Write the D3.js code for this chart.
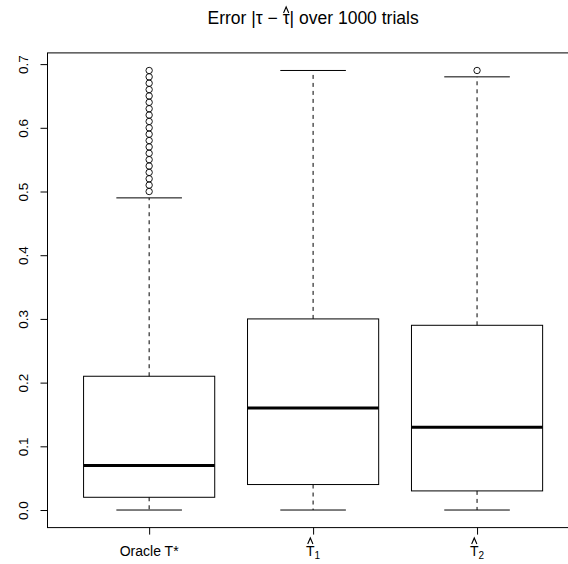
<!DOCTYPE html>
<html><head><meta charset="utf-8">
<script src="https://cdn.jsdelivr.net/npm/d3@7"></script>
<style>body{margin:0;background:#fff}svg{display:block}text{font-family:"Liberation Sans",Arial,sans-serif;fill:#000}</style>
</head><body>
<svg id="c" width="568" height="564"></svg>
<script>
const groups = ["Oracle T*", "T1", "T2"];
const lowerWhisker = [0, 0, 0];
const q1 = [0.02, 0.04, 0.03];
const median = [0.07, 0.16, 0.13];
const q3 = [0.21, 0.30, 0.29];
const upperWhisker = [0.49, 0.69, 0.68];
const outliers = [
  [0.50,0.51,0.52,0.53,0.54,0.55,0.56,0.57,0.58,0.59,0.60,0.61,0.62,0.63,0.64,0.65,0.66,0.67,0.68,0.69],
  [],
  [0.69]
];
const yTicks = [0.0, 0.1, 0.2, 0.3, 0.4, 0.5, 0.6, 0.7];

const svg = d3.select("#c");
const x = d3.scaleLinear().domain([0.38, 3.62]).range([47.5, 578.7]);
const y = d3.scaleLinear().domain([-0.0276, 0.7176]).range([527.6, 52.9]);
const bw = 0.8, sw = 0.4;

function hat(cx, by) {
  svg.append("path").attr("d", `M${cx - 2.6},${by} L${cx},${by - 6} L${cx + 2.6},${by}`)
    .attr("fill", "none").attr("stroke", "#000").attr("stroke-width", 1.1);
}

// frame
svg.append("rect").attr("x", x(0.38)).attr("y", y(0.7176))
  .attr("width", x(3.62) - x(0.38)).attr("height", y(-0.0276) - y(0.7176))
  .attr("fill", "none").attr("stroke", "#000").attr("stroke-width", 1);

// y axis
const ya = svg.append("g").attr("transform", `translate(${x(0.38)},0)`)
  .call(d3.axisLeft(y).tickValues(yTicks).tickSize(7).tickFormat(d3.format(".1f")));
ya.select(".domain").remove();
ya.selectAll("line").attr("stroke", "#000");
ya.selectAll("text").attr("x", null).attr("dy", null).attr("y", 0)
  .attr("text-anchor", "middle").style("font-size", "13.5px")
  .attr("transform", "translate(-20,0) rotate(-90)");
ya.append("line").attr("y1", y(0)).attr("y2", y(0.7)).attr("stroke", "#000");

// x axis ticks
const xa = svg.append("g").attr("transform", `translate(0,${y(-0.0276)})`)
  .call(d3.axisBottom(x).tickValues([1, 2, 3]).tickSize(7).tickFormat(""));
xa.select(".domain").remove();
xa.selectAll("line").attr("stroke", "#000");

// x labels
const lblY = 556;
function hatLabel(cx, base, sub) {
  const t = svg.append("text").attr("x", cx).attr("y", lblY).attr("text-anchor", "middle").style("font-size", "14px");
  t.append("tspan").text(base);
  t.append("tspan").attr("dy", 3).style("font-size", "10px").text(sub);
  const ext = t.node().getExtentOfChar(0);
  hat(ext.x + ext.width / 2, lblY - 12);
}
svg.append("text").attr("x", x(1)).attr("y", lblY).attr("text-anchor", "middle").style("font-size", "14px").text(groups[0]);
hatLabel(x(2), "T", "1");
hatLabel(x(3), "T", "2");

// boxes
groups.forEach((g, i) => {
  const c = i + 1;
  const gg = svg.append("g");
  gg.append("line").attr("x1", x(c)).attr("x2", x(c)).attr("y1", y(q3[i])).attr("y2", y(upperWhisker[i]))
    .attr("stroke", "#000").attr("stroke-dasharray", "4,4");
  gg.append("line").attr("x1", x(c)).attr("x2", x(c)).attr("y1", y(q1[i])).attr("y2", y(lowerWhisker[i]))
    .attr("stroke", "#000").attr("stroke-dasharray", "4,4");
  [upperWhisker[i], lowerWhisker[i]].forEach(v => {
    gg.append("line").attr("x1", x(c - sw / 2)).attr("x2", x(c + sw / 2)).attr("y1", y(v)).attr("y2", y(v)).attr("stroke", "#000");
  });
  gg.append("rect").attr("x", x(c - bw / 2)).attr("y", y(q3[i]))
    .attr("width", x(c + bw / 2) - x(c - bw / 2)).attr("height", y(q1[i]) - y(q3[i]))
    .attr("fill", "none").attr("stroke", "#000");
  gg.append("line").attr("x1", x(c - bw / 2)).attr("x2", x(c + bw / 2)).attr("y1", y(median[i])).attr("y2", y(median[i]))
    .attr("stroke", "#000").attr("stroke-width", 3);
  gg.selectAll("circle.o").data(outliers[i]).enter().append("circle")
    .attr("cx", x(c)).attr("cy", d => y(d)).attr("r", 3.2)
    .attr("fill", "none").attr("stroke", "#000").attr("stroke-width", 0.9);
});

// title
const tt = svg.append("text").attr("x", x(2)).attr("y", 24).attr("text-anchor", "middle").style("font-size", "17.5px")
  .text("Error |\u03c4 \u2212 \u03c4| over 1000 trials");
const e = tt.node().getExtentOfChar(11);
hat(e.x + e.width / 2, 13);
</script>
</body></html>
